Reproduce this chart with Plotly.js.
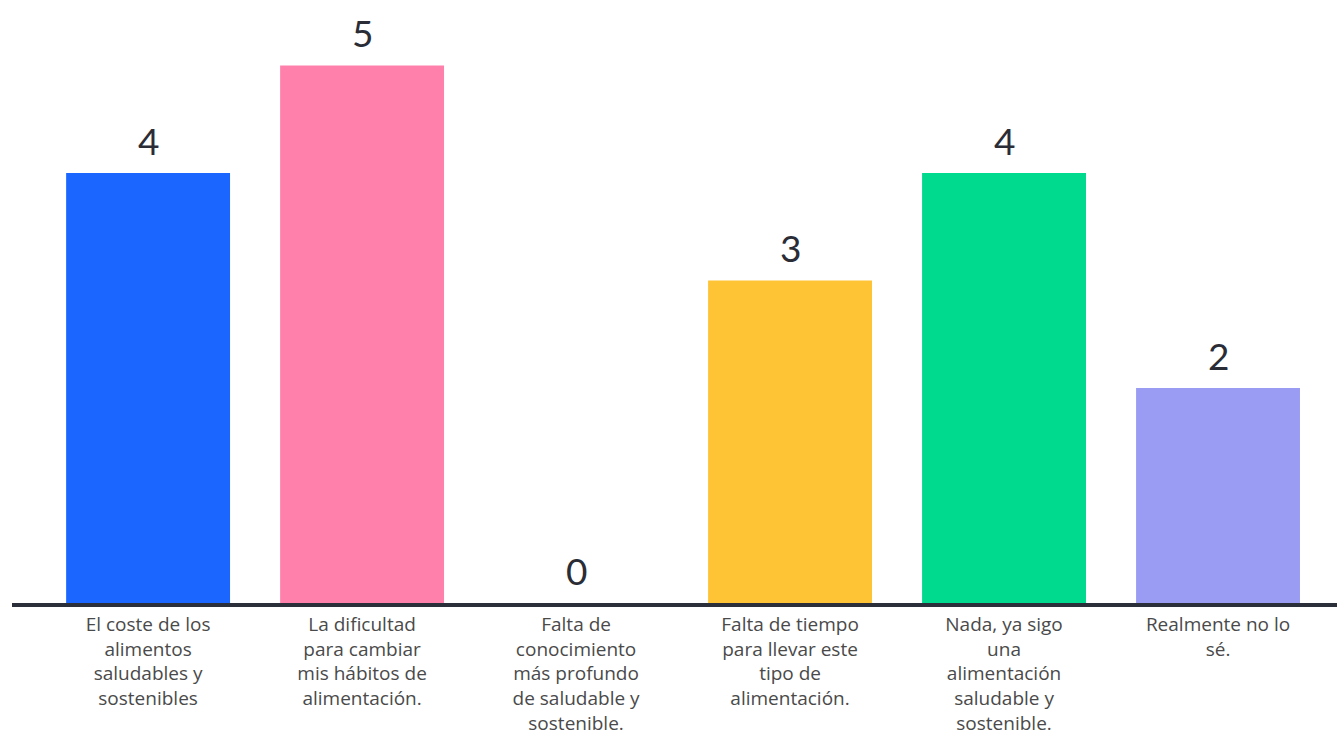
<!DOCTYPE html>
<html>
<head>
<meta charset="utf-8">
<script src="https://cdn.plot.ly/plotly-3.0.1.min.js"></script>
<style>html,body{margin:0;padding:0;background:#fff;}#chart{width:1337px;height:734px;}</style>
</head>
<body>
<div id="chart"></div>
<script>
const categories = [
  "El coste de los<br>alimentos<br>saludables y<br>sostenibles",
  "La dificultad<br>para cambiar<br>mis hábitos de<br>alimentación.",
  "Falta de<br>conocimiento<br>más profundo<br>de saludable y<br>sostenible.",
  "Falta de tiempo<br>para llevar este<br>tipo de<br>alimentación.",
  "Nada, ya sigo<br>una<br>alimentación<br>saludable y<br>sostenible.",
  "Realmente no lo<br>sé."
];
const values = [4, 5, 0, 3, 4, 2];
const colors = ["#1A66FF", "#FF80AA", "#F2F2F2", "#FFC336", "#00DA8E", "#9A9CF4"];

const idx = categories.map((_, i) => i);
const annotations = values.map((v, i) => ({
  x: i, y: v, xref: 'x', yref: 'y', text: String(v), showarrow: false,
  yanchor: 'bottom', yshift: 8,
  font: {family: 'Lato, "Open Sans", sans-serif', size: 37, color: '#2b2d36'}
}));

Plotly.newPlot('chart', [{
  type: 'bar', x: idx, y: values,
  marker: {color: colors, line: {width: 0}},
  hoverinfo: 'none'
}], {
  width: 1337, height: 734,
  margin: {l: 12, r: 0, t: 0, b: 131, pad: 0},
  paper_bgcolor: '#ffffff', plot_bgcolor: '#ffffff',
  bargap: 0.234,
  showlegend: false,
  xaxis: {
    range: [-0.636, 5.556], tickmode: 'array', tickvals: idx, ticktext: categories,
    showline: true, linecolor: '#2a2f3a', linewidth: 4, ticks: '', showgrid: false, zeroline: false,
    tickfont: {family: '"Open Sans", Lato, sans-serif', size: 19, color: '#4a4a4a'},
    tickangle: 0, ticklabelstandoff: 1
  },
  yaxis: {range: [0, 5.609], visible: false, showgrid: false, zeroline: false},
  annotations: annotations
}, {displayModeBar: false, staticPlot: true});
</script>
</body>
</html>
